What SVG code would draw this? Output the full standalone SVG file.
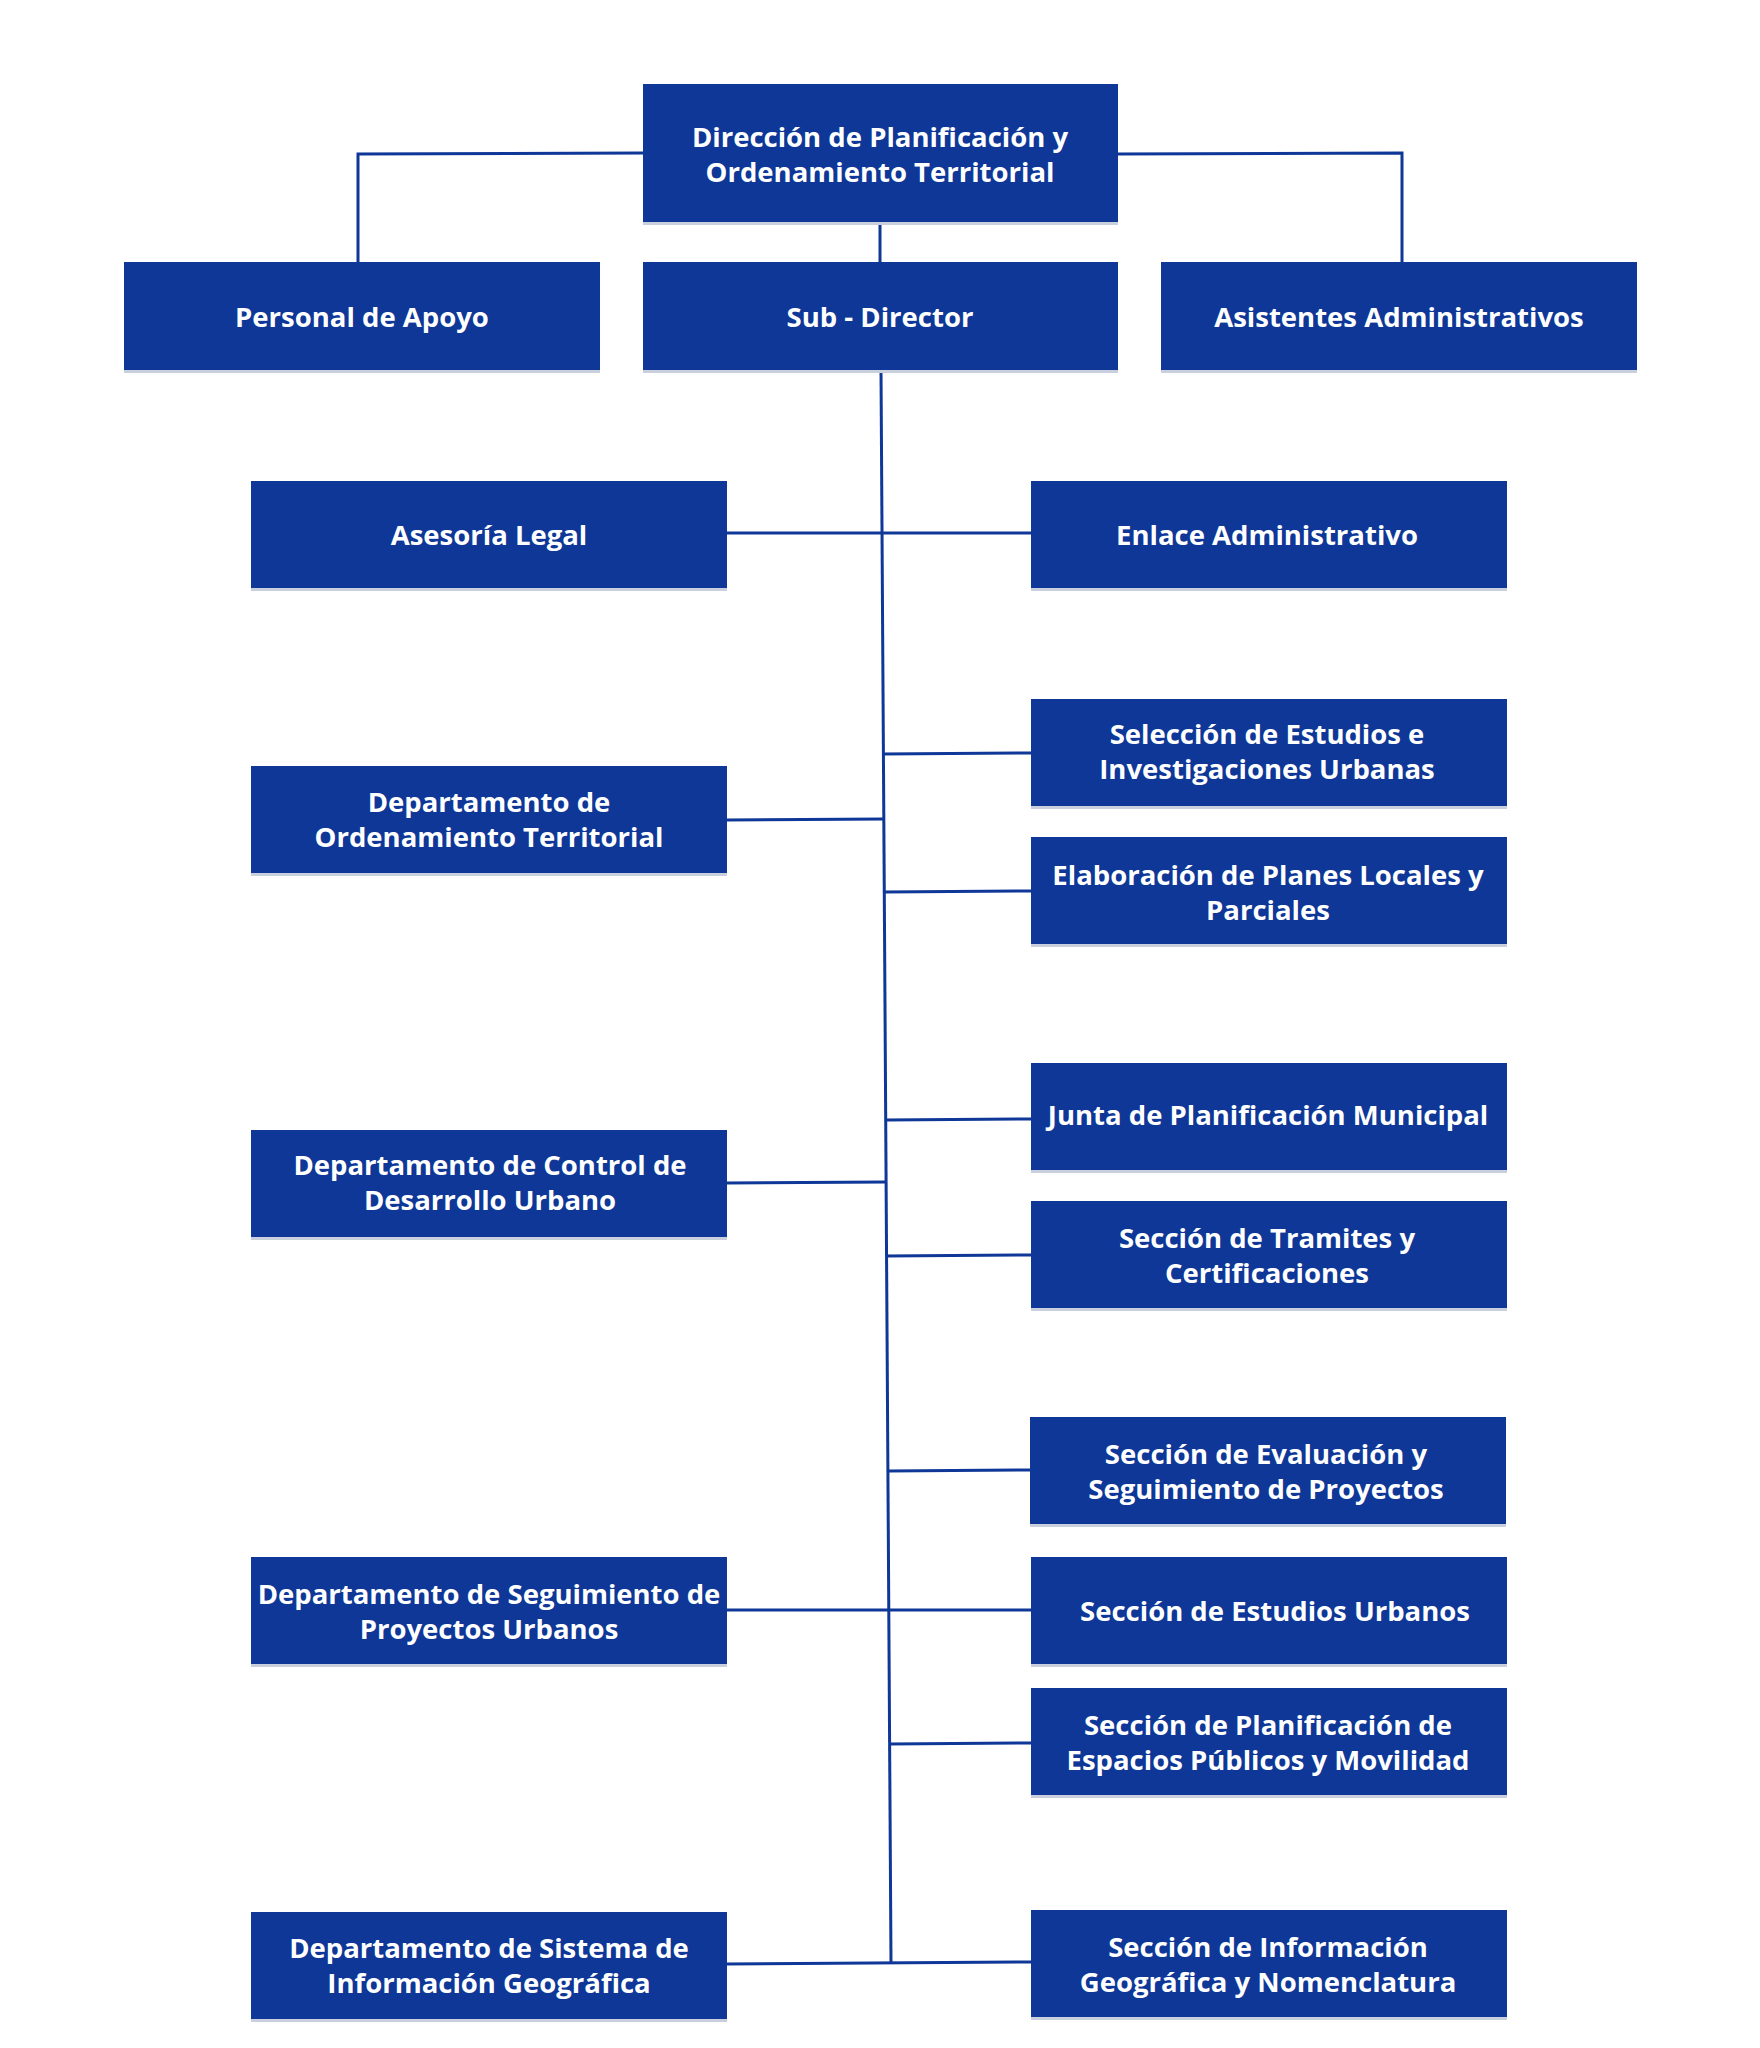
<svg xmlns="http://www.w3.org/2000/svg" width="1760" height="2048" viewBox="0 0 1760 2048">
<style>
.box{fill:#0e3797}
.sh{fill:#c9cfdd}
.t{fill:#ffffff;font-family:"Open Sans","Liberation Sans",sans-serif;font-weight:700;font-size:27.5px;text-anchor:middle;dominant-baseline:central}
.c{stroke:#0e3797;stroke-width:3;fill:none}
</style>
<rect width="1760" height="2048" fill="#ffffff"/>
<g id="connectors">
<polyline class="c" points="643,153 358,154 358,262"/>
<polyline class="c" points="1118,154 1402,153 1402,262"/>
<line class="c" x1="880" y1="222" x2="880" y2="262"/>
<line class="c" x1="881" y1="370" x2="891" y2="1963"/>
<line class="c" x1="727" y1="533" x2="1031" y2="533"/>
<line class="c" x1="883" y1="754" x2="1031" y2="753"/>
<line class="c" x1="727" y1="820" x2="884" y2="819"/>
<line class="c" x1="884" y1="892" x2="1031" y2="891"/>
<line class="c" x1="886" y1="1120" x2="1031" y2="1119"/>
<line class="c" x1="727" y1="1183" x2="886" y2="1182"/>
<line class="c" x1="886" y1="1256" x2="1031" y2="1255"/>
<line class="c" x1="888" y1="1471" x2="1031" y2="1470"/>
<line class="c" x1="727" y1="1610" x2="1031" y2="1610"/>
<line class="c" x1="890" y1="1744" x2="1031" y2="1743"/>
<line class="c" x1="727" y1="1964" x2="1031" y2="1962"/>
</g>
<g id="n-direccion"><rect class="sh" x="643" y="222" width="475" height="3"/><rect class="box" x="643" y="84" width="475" height="138"/><text class="t" x="880" y="136">Dirección de Planificación y</text><text class="t" x="880" y="171">Ordenamiento Territorial</text></g>
<g id="n-personal"><rect class="sh" x="124" y="370" width="476" height="3"/><rect class="box" x="124" y="262" width="476" height="108"/><text class="t" x="362" y="316">Personal de Apoyo</text></g>
<g id="n-sub"><rect class="sh" x="643" y="370" width="475" height="3"/><rect class="box" x="643" y="262" width="475" height="108"/><text class="t" x="880" y="316">Sub - Director</text></g>
<g id="n-asistentes"><rect class="sh" x="1161" y="370" width="476" height="3"/><rect class="box" x="1161" y="262" width="476" height="108"/><text class="t" x="1399" y="316">Asistentes Administrativos</text></g>

<g id="n-asesoria"><rect class="sh" x="251" y="588" width="476" height="3"/><rect class="box" x="251" y="481" width="476" height="107"/><text class="t" x="489" y="534">Asesoría Legal</text></g>
<g id="n-enlace"><rect class="sh" x="1031" y="588" width="476" height="3"/><rect class="box" x="1031" y="481" width="476" height="107"/><text class="t" x="1267" y="534">Enlace Administrativo</text></g>
<g id="n-seleccion"><rect class="sh" x="1031" y="806" width="476" height="3"/><rect class="box" x="1031" y="699" width="476" height="107"/><text class="t" x="1267" y="733">Selección de Estudios e</text><text class="t" x="1267" y="768">Investigaciones Urbanas</text></g>
<g id="n-dep-ordenamiento"><rect class="sh" x="251" y="873" width="476" height="3"/><rect class="box" x="251" y="766" width="476" height="107"/><text class="t" x="489" y="801">Departamento de</text><text class="t" x="489" y="836">Ordenamiento Territorial</text></g>
<g id="n-elaboracion"><rect class="sh" x="1031" y="944" width="476" height="3"/><rect class="box" x="1031" y="837" width="476" height="107"/><text class="t" x="1268" y="874">Elaboración de Planes Locales y</text><text class="t" x="1268" y="909">Parciales</text></g>

<g id="n-junta"><rect class="sh" x="1031" y="1170" width="476" height="3"/><rect class="box" x="1031" y="1063" width="476" height="107"/><text class="t" x="1268" y="1114">Junta de Planificación Municipal</text></g>
<g id="n-dep-control"><rect class="sh" x="251" y="1237" width="476" height="3"/><rect class="box" x="251" y="1130" width="476" height="107"/><text class="t" x="490" y="1164">Departamento de Control de</text><text class="t" x="490" y="1199">Desarrollo Urbano</text></g>
<g id="n-tramites"><rect class="sh" x="1031" y="1308" width="476" height="3"/><rect class="box" x="1031" y="1201" width="476" height="107"/><text class="t" x="1267" y="1237">Sección de Tramites y</text><text class="t" x="1267" y="1272">Certificaciones</text></g>

<g id="n-evaluacion"><rect class="sh" x="1030" y="1524" width="476" height="3"/><rect class="box" x="1030" y="1417" width="476" height="107"/><text class="t" x="1266" y="1453">Sección de Evaluación y</text><text class="t" x="1266" y="1488">Seguimiento de Proyectos</text></g>
<g id="n-dep-seguimiento"><rect class="sh" x="251" y="1664" width="476" height="3"/><rect class="box" x="251" y="1557" width="476" height="107"/><text class="t" x="489" y="1593">Departamento de Seguimiento de</text><text class="t" x="489" y="1628">Proyectos Urbanos</text></g>
<g id="n-estudios"><rect class="sh" x="1031" y="1664" width="476" height="3"/><rect class="box" x="1031" y="1557" width="476" height="107"/><text class="t" x="1275" y="1610">Sección de Estudios Urbanos</text></g>
<g id="n-espacios"><rect class="sh" x="1031" y="1795" width="476" height="3"/><rect class="box" x="1031" y="1688" width="476" height="107"/><text class="t" x="1268" y="1724">Sección de Planificación de</text><text class="t" x="1268" y="1759">Espacios Públicos y Movilidad</text></g>

<g id="n-dep-sig"><rect class="sh" x="251" y="2019" width="476" height="3"/><rect class="box" x="251" y="1912" width="476" height="107"/><text class="t" x="489" y="1947">Departamento de Sistema de</text><text class="t" x="489" y="1982">Información Geográfica</text></g>
<g id="n-informacion"><rect class="sh" x="1031" y="2017" width="476" height="3"/><rect class="box" x="1031" y="1910" width="476" height="107"/><text class="t" x="1268" y="1946">Sección de Información</text><text class="t" x="1268" y="1981">Geográfica y Nomenclatura</text></g>
</svg>
